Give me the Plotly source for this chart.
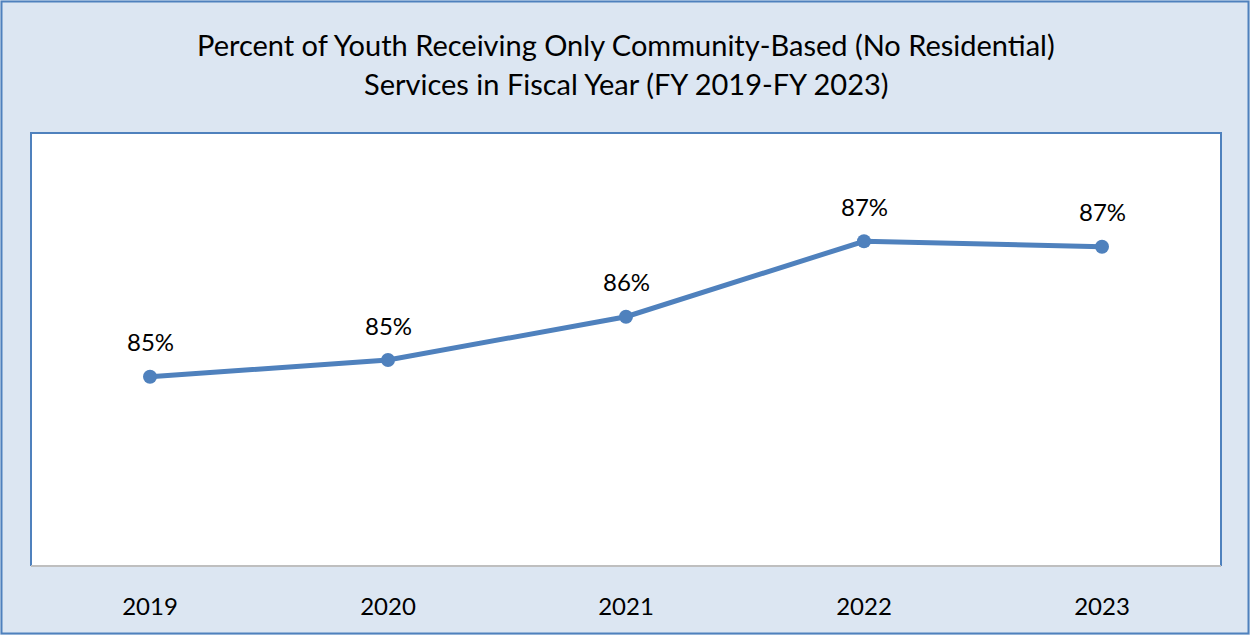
import plotly.graph_objects as go

# Fiscal years and share of youth served only in community-based settings (%)
years = ["2019", "2020", "2021", "2022", "2023"]
pct_community_only = [85.06, 85.33, 86.03, 87.25, 87.16]

title_line1 = "Percent of Youth Receiving Only Community-Based (No Residential)"
title_line2 = "Services in Fiscal Year (FY 2019-FY 2023)"

W, H = 1250, 635
L, R, T, B = 31, 1221, 133, 566  # plot-area edges in pixels
FONT = "Lato, Calibri, sans-serif"
BLUE = "#4f81bd"


def px_to_paper_x(px):
    return (px - L) / (R - L)


def px_to_paper_y(py):
    return (B - py) / (B - T)


fig = go.Figure()
fig.add_trace(go.Scatter(
    x=years,
    y=pct_community_only,
    mode="lines+markers",
    line=dict(color=BLUE, width=5),
    marker=dict(color=BLUE, size=14),
    hoverinfo="skip",
    cliponaxis=False,
))

# value labels above each point (x given as category index)
annotations = []
for i, v in enumerate(pct_community_only):
    annotations.append(dict(
        x=i, y=v, xref="x", yref="y",
        text=f"{v:.0f}%", showarrow=False,
        yshift=35, font=dict(family=FONT, size=24, color="#000000"),
    ))

# two-line chart title
annotations.append(dict(
    x=0.5, y=px_to_paper_y(45), xref="paper", yref="paper",
    text=title_line1, showarrow=False, xanchor="center", yanchor="middle",
    font=dict(family=FONT, size=29, color="#000000"),
))
annotations.append(dict(
    x=0.5, y=px_to_paper_y(83), xref="paper", yref="paper",
    text=title_line2, showarrow=False, xanchor="center", yanchor="middle",
    font=dict(family=FONT, size=29, color="#000000"),
))

shapes = [
    # outer chart frame
    dict(type="rect", xref="paper", yref="paper",
         x0=px_to_paper_x(1.5), x1=px_to_paper_x(1248.5),
         y0=px_to_paper_y(633.5), y1=px_to_paper_y(1.5),
         line=dict(color=BLUE, width=2), layer="below"),
    # plot-area border: blue on left/top/right
    dict(type="path", xref="paper", yref="paper",
         path="M 0,0 L 0,1 L 1,1 L 1,0",
         line=dict(color=BLUE, width=2)),
    # category axis line
    dict(type="line", xref="paper", yref="paper",
         x0=0, x1=1, y0=0, y1=0,
         line=dict(color="#bfbfbf", width=2)),
]

fig.update_layout(
    width=W, height=H,
    margin=dict(l=L, r=W - R, t=T, b=H - B),
    paper_bgcolor="#dce6f2",
    plot_bgcolor="#ffffff",
    showlegend=False,
    annotations=annotations,
    shapes=shapes,
    xaxis=dict(
        type="category", range=[-0.5, len(years) - 0.5],
        showgrid=False, zeroline=False, showline=False,
        ticks="", ticklabelstandoff=24,
        tickfont=dict(family=FONT, size=24, color="#000000"),
        fixedrange=True,
    ),
    yaxis=dict(
        range=[82, 89], showgrid=False, zeroline=False, showline=False,
        showticklabels=False, ticks="", fixedrange=True,
    ),
)

fig.write_html("out.html")
